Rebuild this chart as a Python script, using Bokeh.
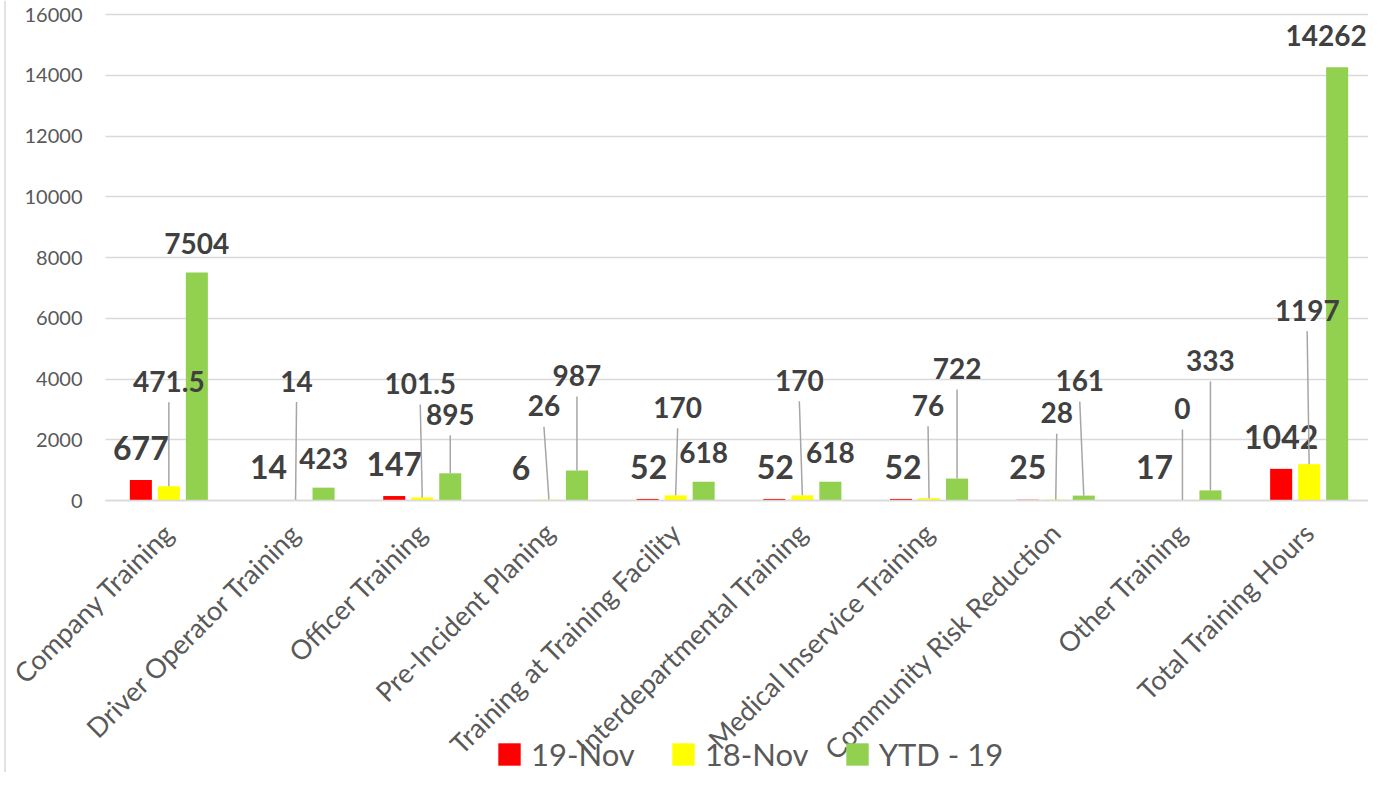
import math
from bokeh.plotting import figure
from bokeh.models import ColumnDataSource, Range1d, FixedTicker, Legend, LegendItem, Span
from bokeh.embed import file_html
from bokeh.resources import INLINE
from bokeh.core.properties import value

# ---------------- data ----------------
categories = ["Company Training", "Driver Operator Training", "Officer Training",
              "Pre-Incident Planing", "Training at Training Facility",
              "Interdepartmental Training", "Medical Inservice Training",
              "Community Risk Reduction", "Other Training", "Total Training Hours"]
series_names = ["19-Nov", "18-Nov", "YTD - 19"]
nov19 = [677, 14, 147, 6, 52, 52, 52, 25, 17, 1042]
nov18 = [471.5, 14, 101.5, 26, 170, 170, 76, 28, 0, 1197]
ytd19 = [7504, 423, 895, 987, 618, 618, 722, 161, 333, 14262]
y_ticks = [0, 2000, 4000, 6000, 8000, 10000, 12000, 14000, 16000]

# ---------------- label placement (pixels) ----------------
red_dy = [32, 33, 32, 32, 32, 32, 32, 33, 33, 32]
red_dx = [0, 1, 0, 0, 1, 1, 2, 0, 0, 0]
yel_dy = [105, 119, 114, 94, 88, 115, 93, 87, 92, 154]
yel_dx = [0, 1, -2, -5, 2, -3, -1, 1, 0, -2]
yel_leader = [True] * 10
grn_dy = [29, 29, 59, 95, 29, 29, 110, 115, 130, 32]
grn_dx = [0, 0, 0, 0, 0, 0, 0, -4, 0, -11]
grn_leader = [False, False, True, True, False, False, True, True, True, False]

colors = ["#ff0000", "#ffff00", "#92d050"]
offsets = [-0.221, 0.0, 0.221]
bar_w = 0.174

# ---------------- layout (pixels) ----------------
W, H = 1368, 772
PLOT_L, PLOT_R = 105, 1372        # pixel columns of the category span
PLOT_T, PLOT_B = 14, 500          # pixel rows of 16000 and 0
YMAX = 16000
N = len(categories)
ppc = (PLOT_R - PLOT_L) / N       # pixels per category
cpp = 1.0 / ppc
ppu = (PLOT_B - PLOT_T) / YMAX    # pixels per value unit
upp = 1.0 / ppu
x_start = -PLOT_L * cpp
x_end = N - (PLOT_R - W) * cpp
y_end = YMAX + PLOT_T * upp
y_start = YMAX - (H - PLOT_T) * upp
LEAD_GAP = 21

p = figure(width=W, height=H, output_backend="svg", toolbar_location=None,
           x_range=Range1d(x_start, x_end), y_range=Range1d(y_start, y_end),
           min_border_left=0, min_border_right=0, min_border_top=0,
           min_border_bottom=0)
p.title.visible = False
p.outline_line_color = None
p.background_fill_color = "white"
p.border_fill_color = "white"

# chart area border (left edge)
p.add_layout(Span(location=x_start + 4.5 * cpp, dimension="height",
                  line_color="#d9d9d9", line_width=1.5))

# grid lines across the category span only
p.xgrid.grid_line_color = None
grid_ok = "cross_bounds" in p.ygrid[0].properties()
if grid_ok:
    p.ygrid.ticker = FixedTicker(ticks=y_ticks)
    p.ygrid.cross_bounds = (0, N)
    p.ygrid.grid_line_color = "#d9d9d9"
    p.ygrid.grid_line_width = 1.5
else:
    p.ygrid.grid_line_color = None
    p.segment(x0=[0] * len(y_ticks), x1=[N] * len(y_ticks), y0=y_ticks, y1=y_ticks,
              line_color="#d9d9d9", line_width=1.5)

renderers = []
label_specs = [
    (nov19, red_dy, red_dx, [False] * N, "32px"),
    (nov18, yel_dy, yel_dx, yel_leader, "28px"),
    (ytd19, grn_dy, grn_dx, grn_leader, "28px"),
]
for k, vals in enumerate([nov19, nov18, ytd19]):
    xs = [i + 0.5 + offsets[k] for i in range(N)]
    src = ColumnDataSource(dict(x=xs, top=vals))
    r = p.vbar(x="x", top="top", bottom=0, width=bar_w, source=src,
               fill_color=colors[k], line_color=None)
    renderers.append(r)

for k, (vals, dys, dxs, leads, fsize) in enumerate(label_specs):
    xs = [i + 0.5 + offsets[k] for i in range(N)]
    lx0, ly0, lx1, ly1 = [], [], [], []
    for x, v, dy, dx, lead in zip(xs, vals, dys, dxs, leads):
        if lead:
            lx0.append(x + dx * cpp)
            ly0.append(v + (dy - LEAD_GAP) * upp)
            lx1.append(x)
            ly1.append(v)
    if lx0:
        p.segment(x0=lx0, y0=ly0, x1=lx1, y1=ly1, line_color="#a6a6a6", line_width=1.5)
    tsrc = ColumnDataSource(dict(x=xs, y=vals, t=[("%g" % v) for v in vals],
                                 dx=dxs, dy=[-d for d in dys]))
    p.text(x="x", y="y", text="t", x_offset="dx", y_offset="dy", source=tsrc,
           text_font=value("Lato"), text_font_style="bold", text_font_size=fsize,
           text_color="#404040", text_align="center", text_baseline="middle")

# y axis drawn at the first category edge
p.yaxis.fixed_location = 0
p.yaxis.ticker = FixedTicker(ticks=y_ticks)
p.yaxis.axis_line_color = None
p.yaxis.major_tick_line_color = None
p.yaxis.minor_tick_line_color = None
p.yaxis.major_tick_out = 0
p.yaxis.major_tick_in = 0
p.yaxis.major_label_standoff = 23
p.yaxis.major_label_text_font = "Lato"
p.yaxis.major_label_text_font_size = "20px"
p.yaxis.major_label_text_color = "#595959"

# x axis drawn at value 0
xt = [i + 0.5 for i in range(N)]
p.xaxis.fixed_location = 0
p.xaxis.bounds = (0, N)
p.xaxis.ticker = FixedTicker(ticks=xt)
p.xaxis.major_label_overrides = {t: c for t, c in zip(xt, categories)}
p.xaxis.major_label_orientation = math.pi / 4
p.xaxis.axis_line_color = "#d9d9d9"
p.xaxis.axis_line_width = 1.5
p.xaxis.major_tick_line_color = None
p.xaxis.minor_tick_line_color = None
p.xaxis.major_tick_out = 0
p.xaxis.major_tick_in = 0
p.xaxis.major_label_standoff = 27
p.xaxis.major_label_text_font = "Lato"
p.xaxis.major_label_text_font_size = "27px"
p.xaxis.major_label_text_color = "#595959"

legend = Legend(items=[LegendItem(label=n, renderers=[r]) for n, r in zip(series_names, renderers)],
                orientation="horizontal", location=(500 - 5, -1),
                glyph_width=28, glyph_height=28, label_standoff=8, spacing=34,
                padding=0, margin=0, border_line_color=None, background_fill_alpha=0,
                label_text_font="Lato", label_text_font_size="31px",
                label_text_color="#595959", label_text_baseline="middle")
p.add_layout(legend)

open("out.html", "w").write(file_html(p, INLINE))
